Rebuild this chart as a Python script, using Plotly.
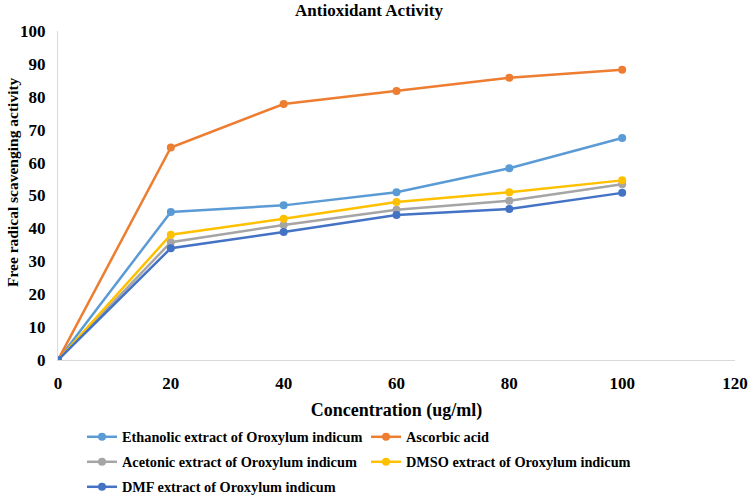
import plotly.graph_objects as go

W, H = 749, 495

concentration = [0, 20, 40, 60, 80, 100]
ethanolic = [0, 45.0, 47.0, 51.0, 58.3, 67.5]
ascorbic = [0, 64.6, 77.8, 81.8, 85.8, 88.2]
acetonic = [0, 35.8, 41.0, 45.7, 48.4, 53.4]
dmso = [0, 38.1, 42.9, 48.0, 51.0, 54.6]
dmf = [0, 34.0, 38.9, 44.1, 45.9, 50.8]

names = [
    "Ethanolic extract of Oroxylum indicum",
    "Ascorbic acid",
    "Acetonic extract of Oroxylum indicum",
    "DMSO extract of Oroxylum indicum",
    "DMF extract of Oroxylum indicum",
]
series = [ethanolic, ascorbic, acetonic, dmso, dmf]
colors = ["#5B9BD5", "#ED7D31", "#A5A5A5", "#FFC000", "#4472C4"]

# legend placement (pixels in container): (x of item start, y center)
legend_pos = [(82, 437), (366, 437), (82, 462), (366, 462), (82, 487)]
legend_ids = ["legend", "legend2", "legend3", "legend4", "legend5"]

FONT = "Liberation Serif"

fig = go.Figure()
for name, vals, col, lid in zip(names, series, colors, legend_ids):
    fig.add_trace(go.Scatter(
        x=concentration, y=vals, name=name, mode="lines+markers",
        line=dict(color=col, width=2.5),
        marker=dict(color=col, size=8),
        legend=lid, showlegend=True,
    ))

layout_legends = {}
for lid, (px, py) in zip(legend_ids, legend_pos):
    layout_legends[lid] = dict(
        xref="container", yref="container",
        x=px / W, y=1 - py / H, xanchor="left", yanchor="middle",
        font=dict(family=FONT, size=14.3, color="#000000", weight="bold"),
        bgcolor="rgba(0,0,0,0)", borderwidth=0, itemwidth=30,
    )

fig.update_layout(
    width=W, height=H,
    margin=dict(l=58, r=14, t=31, b=135, autoexpand=False),
    paper_bgcolor="white", plot_bgcolor="white",
    title=dict(text="<b>Antioxidant Activity</b>", x=369 / W, xanchor="center",
               y=1 - 10 / H, yanchor="middle", xref="container", yref="container",
               font=dict(family=FONT, size=17, color="#000000")),
    xaxis=dict(range=[0, 120], tickvals=[0, 20, 40, 60, 80, 100, 120],
               showgrid=False, zeroline=False, showline=True,
               linecolor="#D9D9D9", linewidth=1, ticks="",
               ticklabelstandoff=8,
               tickfont=dict(family=FONT, size=17, color="#000000", weight="bold"),
               title=dict(text="<b>Concentration (ug/ml)</b>", standoff=10,
                          font=dict(family=FONT, size=18, color="#000000"))),
    yaxis=dict(range=[0, 100], tickvals=[0, 10, 20, 30, 40, 50, 60, 70, 80, 90, 100],
               showgrid=False, zeroline=False, showline=True,
               linecolor="#D9D9D9", linewidth=1, ticks="",
               ticklabelstandoff=8,
               tickfont=dict(family=FONT, size=17, color="#000000", weight="bold")),
    annotations=[dict(text="<b>Free radical scavenging activity</b>",
                      xref="paper", yref="paper", x=-46 / 677, y=(360 - 182) / 329,
                      xanchor="center", yanchor="middle", textangle=-90,
                      showarrow=False,
                      font=dict(family=FONT, size=15.5, color="#000000"))],
    **layout_legends,
)

fig.write_html("out.html", config={"displayModeBar": False},
               post_script="document.body.style.margin='0';")
